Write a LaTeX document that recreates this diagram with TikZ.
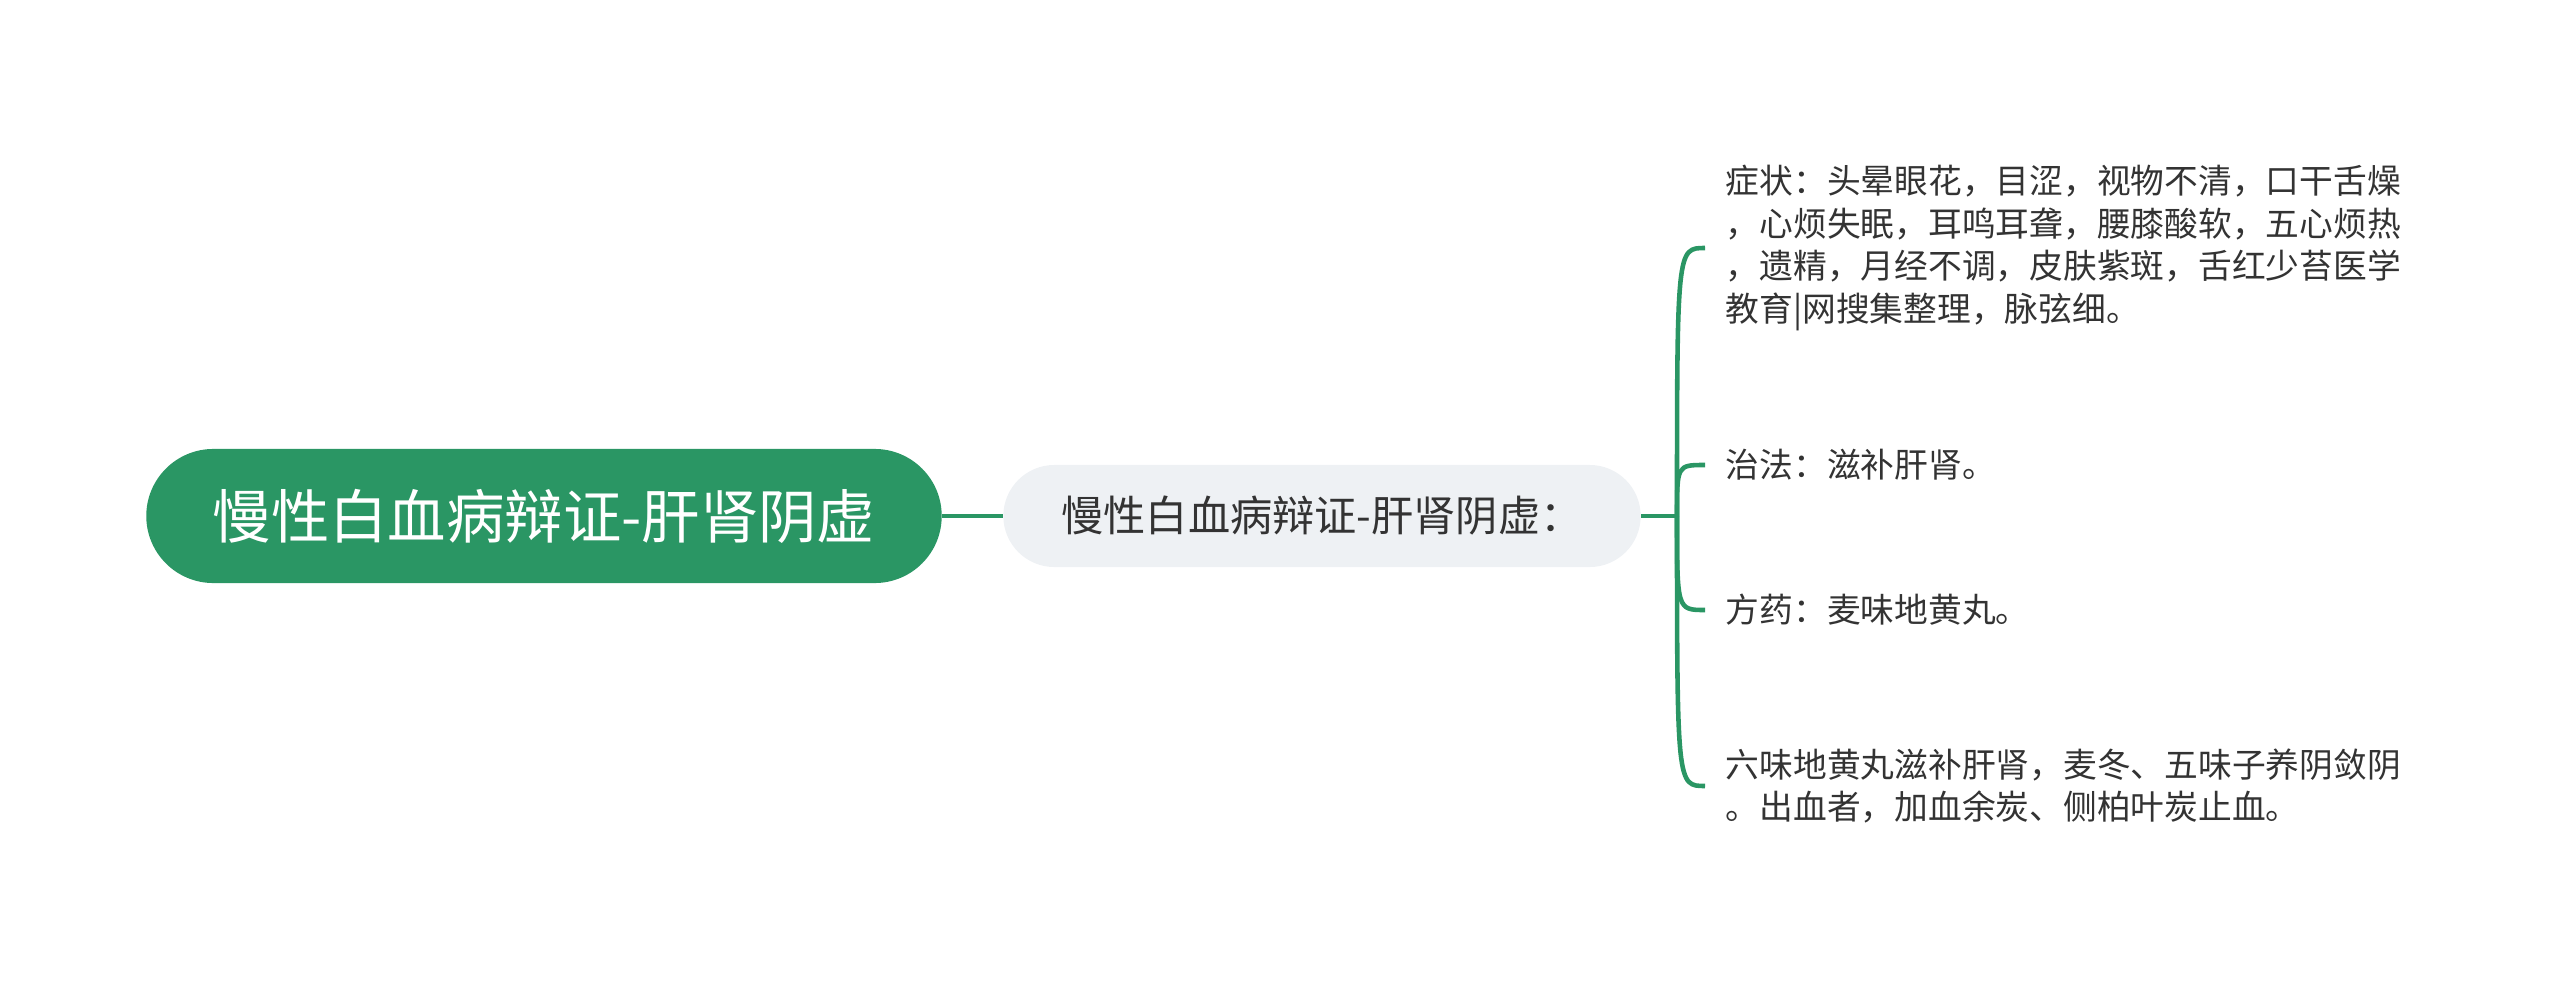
\documentclass[tikz,border=0pt]{standalone}
\usepackage{fontspec}
\newfontfamily\cjk{Noto Sans CJK SC}
\definecolor{mapgreen}{RGB}{42,150,100}
\definecolor{subgray}{RGB}{238,241,244}
\definecolor{leaftext}{RGB}{51,51,51}

\begin{document}
\begin{tikzpicture}[x=0.01cm,y=-0.01cm]
\useasboundingbox (0,0) rectangle (2560,988);

\begin{scope}[every node/.style={rounded corners=0.67cm,fill=mapgreen,text=white,
    minimum width=7.95cm,minimum height=1.34cm,font=\cjk\fontsize{16.6pt}{20pt}\selectfont}]
    \node (root) at (544,516) {慢性白血病辩证-肝肾阴虚};
\end{scope}

\begin{scope}[every node/.style={rounded corners=0.51cm,fill=subgray,text=leaftext,
    minimum width=6.37cm,minimum height=1.02cm,font=\cjk\fontsize{12pt}{15pt}\selectfont}]
    \node (sub) at (1322,516) {慢性白血病辩证-肝肾阴虚：};
\end{scope}

\begin{scope}[every node/.style={anchor=west,inner xsep=0.2cm,inner ysep=0pt,
    align=left,text=leaftext,font=\cjk\fontsize{9.6pt}{12.2pt}\selectfont}]
    \node (sym) at (1705,248) {症状：头晕眼花，目涩，视物不清，口干舌燥\\，心烦失眠，耳鸣耳聋，腰膝酸软，五心烦热\\，遗精，月经不调，皮肤紫斑，舌红少苔医学\\教育|网搜集整理，脉弦细。};
    \node (cure) at (1705,465) {治法：滋补肝肾。};
    \node (med) at (1705,610) {方药：麦味地黄丸。};
    \node (note) at (1705,786) {六味地黄丸滋补肝肾，麦冬、五味子养阴敛阴\\。出血者，加血余炭、侧柏叶炭止血。};
\end{scope}

\coordinate (hub) at (1677,516);

\begin{scope}[every path/.style={draw=mapgreen,line width=1.3pt}]
    \path[line width=1.4pt] (root.east) -- (sub.west);
    \path (sub.east) -- (hub);
    \path (hub) .. controls (hub |- sym.west) .. (sym.west);
    \path (hub) .. controls (hub |- cure.west) .. (cure.west);
    \path (hub) .. controls (hub |- med.west) .. (med.west);
    \path (hub) .. controls (hub |- note.west) .. (note.west);
\end{scope}
\end{tikzpicture}
\end{document}
